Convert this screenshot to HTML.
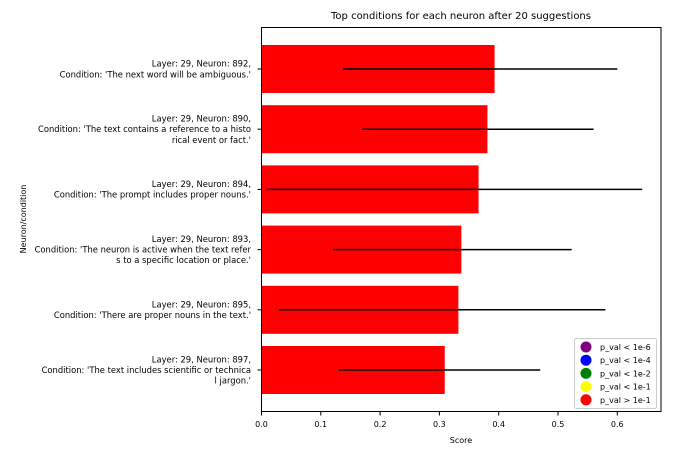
<!DOCTYPE html>
<html><head><style>
body{margin:0;background:#fff;font-family:"Liberation Sans","DejaVu Sans",sans-serif;}
text{font-family:"DejaVu Sans","Liberation Sans",sans-serif;}
</style></head><body>
<svg id="c" width="695" height="451">
<text x="461" y="19" font-size="10" text-anchor="middle">Top conditions for each neuron after 20 suggestions</text>
<g id="bars"></g>
<g id="err"></g>
<rect x="261.5" y="27.5" width="399.5" height="384" fill="none" stroke="#000" stroke-width="1"/>
<g id="xt"></g>
<g id="yt"></g>
<text x="461" y="443" font-size="8" text-anchor="middle">Score</text>
<text transform="translate(26,219) rotate(-90)" font-size="8" text-anchor="middle">Neuron/condition</text>
<g>
<rect x="574.5" y="338.5" width="82" height="70" rx="2" fill="#fff" stroke="#ccc"/>
<g id="lg"></g>
</g>
</svg>
<script>
const labels=[
["Layer: 29, Neuron: 892,","Condition: 'The next word will be ambiguous.'"],
["Layer: 29, Neuron: 890,","Condition: 'The text contains a reference to a histo","rical event or fact.'"],
["Layer: 29, Neuron: 894,","Condition: 'The prompt includes proper nouns.'"],
["Layer: 29, Neuron: 893,","Condition: 'The neuron is active when the text refer","s to a specific location or place.'"],
["Layer: 29, Neuron: 895,","Condition: 'There are proper nouns in the text.'"],
["Layer: 29, Neuron: 897,","Condition: 'The text includes scientific or technica","l jargon.'"]];
const scores=[0.393,0.381,0.366,0.337,0.332,0.309];
const errLow=[0.138,0.170,0.008,0.120,0.029,0.130];
const errHigh=[0.600,0.560,0.642,0.523,0.580,0.470];
const xTicks=[0,0.1,0.2,0.3,0.4,0.5,0.6];
const legendLabels=["p_val < 1e-6","p_val < 1e-4","p_val < 1e-2","p_val < 1e-1","p_val > 1e-1"];
const legendColors=["purple","blue","green","yellow","red"];
const NS="http://www.w3.org/2000/svg";
const X=v=>261.5+v*593;
const Y=i=>69+i*60.2;
function mk(t,a,p){const e=document.createElementNS(NS,t);for(const k in a)e.setAttribute(k,a[k]);document.getElementById(p).appendChild(e);return e;}
scores.forEach((s,i)=>{
 const r=mk('rect',{x:X(0),y:Y(i)-24,width:X(s)-X(0),height:48,fill:'red'},'bars');
 
 
 const l=mk('line',{x1:X(errLow[i]),x2:X(errHigh[i]),y1:Y(i),y2:Y(i),stroke:'#000','stroke-width':1.5},'err');
 
 
 mk('line',{x1:257.5,x2:261.5,y1:Y(i),y2:Y(i),stroke:'#000'},'yt');
 const lines=labels[i];const n=lines.length;
 lines.forEach((t,j)=>{const tx=mk('text',{x:251,y:Y(i)+3-(n-1)*5.3+j*10.6,'font-size':8.4,'text-anchor':'end'},'yt');tx.textContent=t;
  
  });
});
xTicks.forEach(v=>{
 mk('line',{x1:X(v),x2:X(v),y1:411.5,y2:415.5,stroke:'#000'},'xt');
 const t=mk('text',{x:X(v),y:427,'font-size':8,'text-anchor':'middle'},'xt');t.textContent=v.toFixed(1);
 
 
});
legendLabels.forEach((s,i)=>{
 const y=347+i*13.2;
 mk('circle',{cx:586,cy:y,r:5.5,fill:legendColors[i]},'lg');
 const t=mk('text',{x:600,y:y+3,'font-size':8},'lg');t.textContent=s;
 
 
});
</script>
</body></html>
